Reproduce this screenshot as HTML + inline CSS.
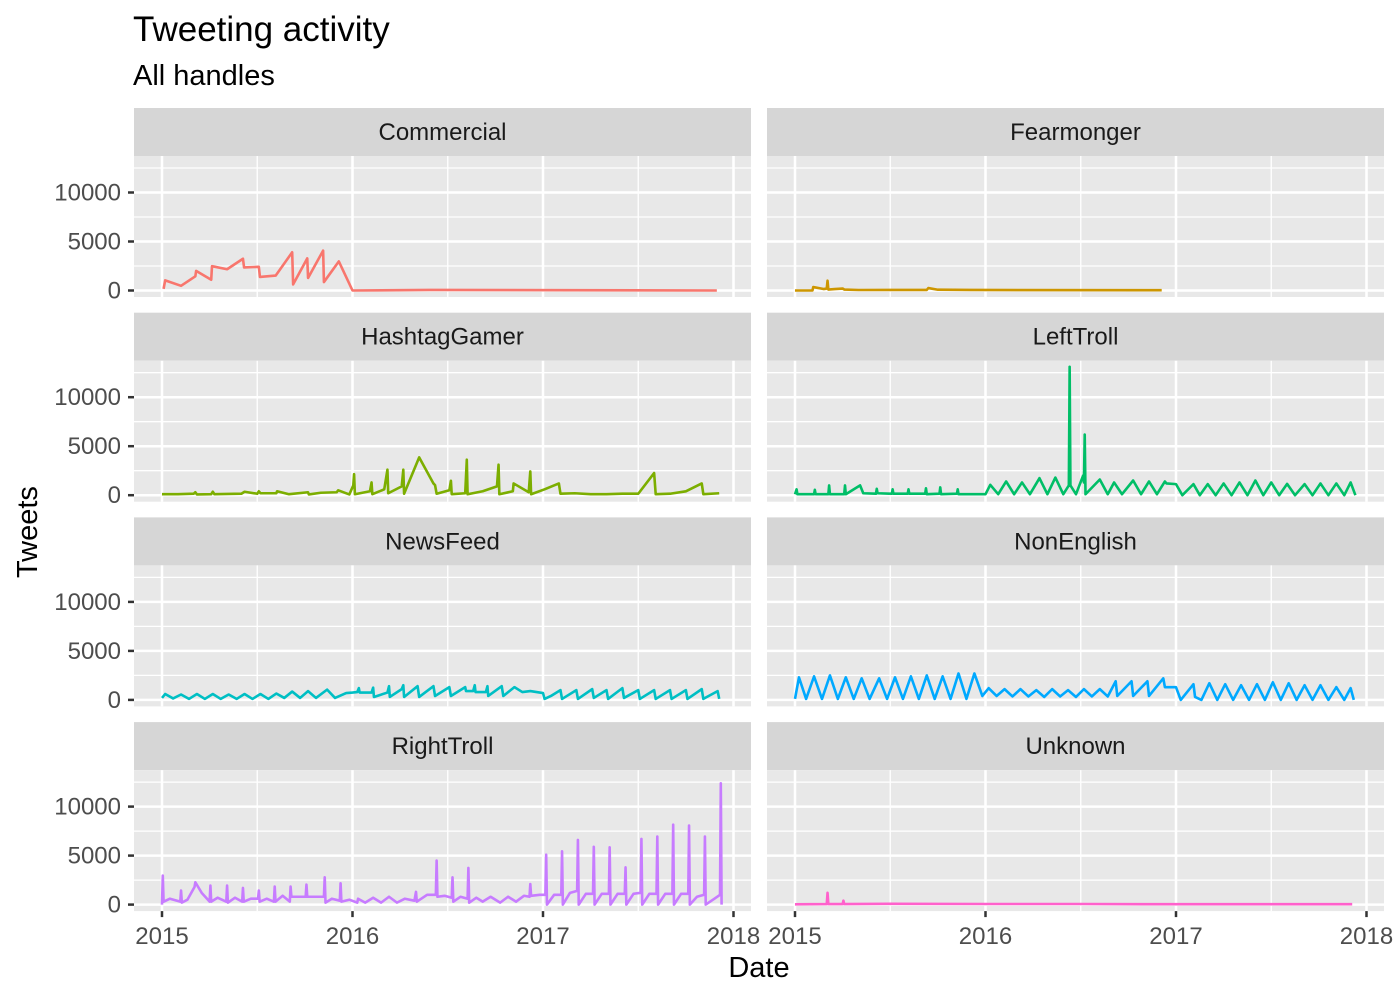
<!DOCTYPE html>
<html><head><meta charset="utf-8"><style>
body{margin:0;background:#fff;}
svg{display:block;font-family:"Liberation Sans",Arial,sans-serif;}
</style></head><body>
<svg id="chart" width="1400" height="1000" viewBox="0 0 1400 1000" xmlns="http://www.w3.org/2000/svg">
<rect width="1400" height="1000" fill="#fff"/>
<text x="133" y="41" font-size="35" fill="#000">Tweeting activity</text>
<text x="133" y="85" font-size="29" fill="#000">All handles</text>
<text transform="translate(37,532) rotate(-90)" text-anchor="middle" font-size="29" fill="#000">Tweets</text>
<text x="759" y="977" text-anchor="middle" font-size="29" fill="#000">Date</text>
<g id="panels"></g>
</svg>
<script>
const facets = ["Commercial","Fearmonger","HashtagGamer","LeftTroll","NewsFeed","NonEnglish","RightTroll","Unknown"];
const colors = ["#F8766D","#CD9600","#7CAE00","#00BE67","#00BFC4","#00A9FF","#C77CFF","#FF61CC"];
const yTicks = [0,5000,10000];
const yMinor = [2500,7500,12500];
const xTickYears = [2015,2016,2017,2018];
const xMinorYears = [2015.5,2016.5,2017.5];
// [months since Jan 2015, tweets]
const commercial = [[0.1,170],[0.2,1035],[1.2,480],[2.1,1450],[2.15,2000],[3.1,1100],[3.15,2480],[4.1,2170],[5.1,3240],[5.17,2350],[6.1,2415],[6.17,1380],[7.16,1520],[8.2,3900],[8.26,620],[9.15,3280],[9.2,1280],[10.15,4070],[10.2,860],[11.14,2970],[12.0,0],[16.9,60],[34.95,0]];
const fearmonger = [[0,0],[1.1,0],[1.15,350],[1.8,150],[2.0,200],[2.05,1000],[2.1,100],[2.5,150],[3.0,200],[3.1,100],[4,50],[6,60],[8.3,60],[8.4,250],[9,80],[11,60],[14,40],[23.1,30]];
const hashtagGamer = [[0,100],[1,100],[2,150],[2.1,300],[2.2,80],[3.1,100],[3.2,350],[3.3,100],[5,150],[5.2,350],[6,150],[6.1,400],[6.2,200],[7.2,200],[7.25,400],[8,100],[9.2,300],[9.25,80],[10,250],[11,300],[11.1,500],[11.8,80],[12.05,1000],[12.1,2150],[12.15,100],[13.1,400],[13.2,1300],[13.25,100],[14,600],[14.2,2600],[14.25,200],[15.1,900],[15.2,2600],[15.25,150],[16.2,3860],[17.1,1200],[17.2,1030],[17.3,150],[18.1,500],[18.2,1470],[18.25,100],[19.1,200],[19.2,3620],[19.25,100],[20.2,400],[21.1,900],[21.2,3110],[21.25,100],[22.1,400],[22.15,1200],[23.1,300],[23.2,2430],[23.25,100],[24.1,600],[25,1200],[25.1,150],[26,200],[27,100],[28,100],[29,150],[30,150],[31,2260],[31.1,100],[32,150],[33,400],[34,1200],[34.1,100],[35.1,200]];
const leftTroll = [[0,100],[0.1,600],[0.15,100],[1.2,100],[1.25,550],[1.3,100],[2.1,100],[2.15,1000],[2.2,100],[3.1,100],[3.15,1000],[3.2,100],[4.1,1000],[4.3,200],[5.1,150],[5.15,650],[5.2,200],[6.1,150],[6.15,600],[6.2,150],[7.1,150],[7.15,600],[7.2,150],[8.2,150],[8.25,700],[8.3,100],[9.1,150],[9.15,800],[9.2,100],[10.2,150],[10.25,600],[10.3,100],[11.2,100],[12.0,100],[12.3,1060],[12.8,100],[13.3,1400],[13.8,100],[14.3,1300],[14.8,100],[15.4,1740],[15.9,100],[16.4,1800],[16.9,100],[17.25,1000],[17.3,13100],[17.35,1000],[17.7,100],[18.15,2000],[18.2,1300],[18.25,6190],[18.3,100],[19.2,1600],[19.7,100],[20.1,1300],[20.6,100],[21.3,1500],[21.8,100],[22.3,1400],[22.8,100],[23.3,1400],[23.4,1200],[24,1130],[24.4,0],[25.1,1130],[25.5,0],[26,1130],[26.5,0],[27,1200],[27.5,0],[28,1300],[28.5,0],[29,1500],[29.5,0],[30,1300],[30.5,0],[31,1150],[31.5,0],[32.1,1130],[32.6,0],[33.1,1200],[33.6,0],[34.1,1200],[34.6,0],[35,1300],[35.3,0]];
const newsFeed = [[0,200],[0.2,600],[0.7,150],[1.2,550],[1.7,100],[2.2,600],[2.7,100],[3.2,600],[3.7,100],[4.2,550],[4.7,100],[5.2,600],[5.7,100],[6.2,600],[6.7,100],[7.2,650],[7.7,200],[8.2,850],[8.7,200],[9.2,900],[9.7,200],[10.4,1050],[10.9,200],[11.6,700],[12,750],[12.3,800],[12.4,1200],[12.45,750],[13.2,750],[13.3,1250],[13.35,300],[14.2,750],[14.3,1400],[14.35,300],[15.1,1100],[15.2,1500],[15.25,300],[16.1,1400],[16.2,300],[17.1,1400],[17.2,400],[18.1,1300],[18.2,400],[19.1,1300],[19.15,900],[19.6,900],[19.7,1500],[19.75,800],[20.4,800],[20.5,1400],[20.55,400],[21.4,1400],[21.5,400],[22.2,1300],[22.7,800],[23.2,900],[24,700],[24.1,100],[24.5,400],[25.1,1000],[25.2,100],[26.1,1000],[26.2,100],[27.1,1100],[27.2,200],[28,1000],[28.1,100],[29,1200],[29.1,200],[30,1000],[30.1,100],[31,1000],[31.1,100],[32,1000],[32.1,100],[33,1000],[33.1,100],[34,1100],[34.1,100],[35,900],[35.1,100]];
const nonEnglish = [[0,100],[0.25,2300],[0.7,100],[1.2,2400],[1.7,100],[2.2,2500],[2.7,100],[3.2,2300],[3.7,100],[4.2,2200],[4.7,100],[5.3,2200],[5.8,100],[6.3,2300],[6.8,100],[7.3,2400],[7.8,100],[8.3,2500],[8.8,100],[9.3,2400],[9.8,100],[10.3,2700],[10.8,100],[11.3,2700],[11.8,400],[12.2,1200],[12.7,400],[13.2,1100],[13.7,350],[14.2,1100],[14.7,350],[15.2,1000],[15.7,300],[16.2,1100],[16.7,350],[17.2,1000],[17.7,300],[18.2,1100],[18.7,350],[19.2,1100],[19.7,350],[20.2,1900],[20.3,400],[21.2,1900],[21.3,400],[22.2,1900],[22.3,400],[23.2,2200],[23.3,1300],[24,1300],[24.3,0],[25.1,1600],[25.2,300],[25.6,0],[26.1,1700],[26.6,0],[27.1,1600],[27.6,0],[28.1,1500],[28.6,0],[29.1,1600],[29.6,0],[30.1,1800],[30.6,0],[31.1,1700],[31.6,0],[32.1,1500],[32.6,0],[33.1,1500],[33.6,0],[34.1,1300],[34.6,0],[35,1200],[35.2,0]];
const rightTroll = [[0,0],[0.05,2960],[0.1,300],[0.5,600],[1.15,300],[1.2,1430],[1.25,200],[1.6,500],[2.05,1800],[2.1,2280],[2.5,1200],[3.0,300],[3.05,1940],[3.1,300],[3.5,700],[4.05,300],[4.1,1940],[4.15,200],[4.6,700],[5.05,300],[5.1,1700],[5.15,300],[5.6,600],[6.05,600],[6.1,1430],[6.15,300],[6.6,600],[7.05,300],[7.1,1840],[7.15,300],[7.6,900],[8.05,300],[8.1,1840],[8.15,800],[8.6,800],[9.05,800],[9.1,2040],[9.15,800],[9.8,800],[10.2,800],[10.25,2790],[10.3,200],[10.7,600],[11.2,400],[11.25,2180],[11.3,300],[11.8,500],[12.3,200],[12.35,600],[12.8,200],[13.3,700],[13.8,200],[14.3,800],[14.8,200],[15.3,600],[15.9,400],[16,1300],[16.05,300],[16.7,1000],[17.25,1000],[17.3,4490],[17.35,800],[17.8,900],[18.25,700],[18.3,2790],[18.35,300],[18.8,800],[19.25,600],[19.3,3740],[19.35,200],[19.8,700],[20.2,300],[20.7,800],[21.3,200],[21.8,800],[22.3,300],[22.8,900],[23.15,800],[23.2,2100],[23.25,900],[23.8,1000],[24.15,1000],[24.2,5100],[24.25,0],[24.7,1000],[25.15,1000],[25.2,5440],[25.25,0],[25.7,1200],[26.15,1400],[26.2,6600],[26.25,0],[26.7,1100],[27.15,1100],[27.2,5900],[27.25,0],[27.7,1100],[28.15,1100],[28.2,5850],[28.25,0],[28.7,1100],[29.15,1100],[29.2,3800],[29.25,0],[29.7,1100],[30.15,1200],[30.2,6700],[30.25,0],[30.7,1100],[31.15,1100],[31.2,6940],[31.25,0],[31.7,1100],[32.15,1100],[32.2,8160],[32.25,0],[32.7,1100],[33.15,1100],[33.2,8060],[33.25,0],[33.7,800],[34.15,1000],[34.2,6940],[34.25,0],[34.8,600],[35.15,1000],[35.2,12380],[35.25,0]];
const unknown = [[0,30],[2.0,50],[2.05,1200],[2.1,50],[3.0,50],[3.05,400],[3.1,50],[6,80],[12,60],[18,60],[24,40],[35.1,40]];
const seriesList = [commercial,fearmonger,hashtagGamer,leftTroll,newsFeed,nonEnglish,rightTroll,unknown];

const NS = "http://www.w3.org/2000/svg";
const root = document.getElementById("panels");
const colLeft = [134,767], panelW = 617, stripH = 48, panelH = 141, rowStep = 204.7, top0 = 108;
const pxPerYear = 190.5, pxPerUnit = 98/10000;
function mk(tag, attrs, parent){const e=document.createElementNS(NS,tag);for(const k in attrs)e.setAttribute(k,attrs[k]);parent.appendChild(e);return e;}
function xScale(year, left){return left + 28 + (year-2015)*pxPerYear;}
function yScale(v, zero){return zero - v*pxPerUnit;}

facets.forEach((name,i)=>{
  const col=i%2,row=Math.floor(i/2);
  const left=colLeft[col], st=top0+row*rowStep, pt=st+stripH, pb=pt+panelH, zero=pb-6.5;
  const g=mk("g",{},root);
  
  
  const strip=mk("rect",{x:left,y:st,width:panelW,height:stripH,fill:"#d6d6d6"},g);
  
  
  const sl=mk("text",{x:left+panelW/2,y:st+32,"text-anchor":"middle","font-size":"24",fill:"#1a1a1a"},g);
  sl.textContent=name;
  
  
  const bg=mk("rect",{x:left,y:pt,width:panelW,height:panelH,fill:"#e8e8e8"},g);
  
  
  yMinor.forEach(v=>{const y=yScale(v,zero);if(y>pt)mk("line",{x1:left,x2:left+panelW,y1:y,y2:y,stroke:"#fff","stroke-width":1.3},g);});
  xMinorYears.forEach(yr=>{const x=xScale(yr,left);mk("line",{x1:x,x2:x,y1:pt,y2:pb,stroke:"#fff","stroke-width":1.3},g);});
  yTicks.forEach(v=>{const y=yScale(v,zero);mk("line",{x1:left,x2:left+panelW,y1:y,y2:y,stroke:"#fff","stroke-width":2.5},g);
    if(col===0){mk("line",{x1:left-6,x2:left,y1:y,y2:y,stroke:"#333","stroke-width":2.5},g);
      const t=mk("text",{x:left-13,y:y+8,"text-anchor":"end","font-size":"24",fill:"#4d4d4d"},g);t.textContent=v;
      
      }});
  xTickYears.forEach(yr=>{const x=xScale(yr,left);mk("line",{x1:x,x2:x,y1:pt,y2:pb,stroke:"#fff","stroke-width":2.5},g);
    if(row===3){mk("line",{x1:x,x2:x,y1:pb,y2:pb+6,stroke:"#333","stroke-width":2.5},g);
      const t=mk("text",{x:x,y:pb+33,"text-anchor":"middle","font-size":"24",fill:"#4d4d4d"},g);t.textContent=yr;
      
      }});
  const d=seriesList[i].map((p,j)=>(j?"L":"M")+xScale(2015+p[0]/12,left).toFixed(2)+","+yScale(p[1],zero).toFixed(2)).join(" ");
  const path=mk("path",{d:d,fill:"none",stroke:colors[i],"stroke-width":2.6,"stroke-linejoin":"round"},g);
  
  
});
</script>
</body></html>
